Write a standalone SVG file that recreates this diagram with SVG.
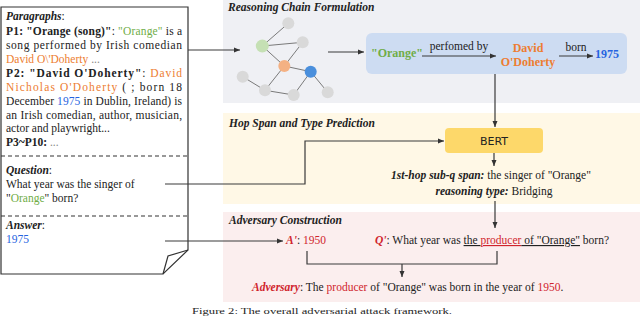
<svg xmlns="http://www.w3.org/2000/svg" width="640" height="318" viewBox="0 0 640 318">
<defs>
<marker id="ah" markerWidth="6" markerHeight="6" refX="6" refY="3" orient="auto" markerUnits="userSpaceOnUse"><path d="M0,0.5 L6,3 L0,5.5 z" fill="#333"/></marker>
<style>
text{font-family:"Liberation Serif","Times New Roman",serif;font-size:11.5px;fill:#222}
.b{font-weight:bold}
.bi{font-weight:bold;font-style:italic}
.g{fill:#70ad47}
.o{fill:#ed7d31}
.bl{fill:#2563e0}
.r{fill:#d0242c}
.gr{fill:#888}
.ttl{font-weight:bold;font-style:italic;font-size:11.5px}
.big{font-size:12px}
.c{fill:none;stroke:#3a3a3a;stroke-width:1.2}
.e{stroke:#7a7a7a;stroke-width:1}
</style>
</defs>
<g id="sections">
<rect x="223" y="0" width="417" height="103" fill="#eff0f4"/>
<rect x="223" y="113" width="417" height="91" fill="#fff8e6"/>
<rect x="223" y="212" width="417" height="90" fill="#fbeeee"/>
<text class="ttl" x="228" y="11">Reasoning Chain Formulation</text>
<text class="ttl" x="229" y="127">Hop Span and Type Prediction</text>
<text class="ttl" x="229" y="224">Adversary Construction</text>
</g>
<g id="paper">
<path d="M1,7 H188 V250 L163,274 H1 Z" fill="#fff" stroke="#333" stroke-width="1.2"/>
<path d="M188,250 L168,256 L163,274" fill="none" stroke="#333" stroke-width="1.2"/>
<line x1="1" y1="156" x2="188" y2="156" stroke="#333" stroke-width="1.2" stroke-dasharray="4,3"/>
<line x1="1" y1="216" x2="188" y2="216" stroke="#333" stroke-width="1.2" stroke-dasharray="4,3"/>
<text class="bi" x="6" y="20">Paragraphs<tspan font-weight="normal" font-style="normal">:</tspan></text>
<text x="6" y="34.5" textLength="176" lengthAdjust="spacing"><tspan class="b">P1: "Orange (song)"</tspan>: <tspan class="g">"Orange"</tspan> is a</text>
<text x="6" y="48.5" textLength="176" lengthAdjust="spacing">song performed by Irish comedian</text>
<text x="6" y="62.5"><tspan class="o">David O\'Doherty</tspan><tspan class="gr"> ...</tspan></text>
<text x="6" y="76.5" textLength="176" lengthAdjust="spacing"><tspan class="b">P2: "David O'Doherty"</tspan>: <tspan class="o">David</tspan></text>
<text x="6" y="90.5" textLength="176" lengthAdjust="spacing"><tspan class="o">Nicholas O'Doherty</tspan> ( ; born 18</text>
<text x="6" y="104.5" textLength="176" lengthAdjust="spacing">December <tspan class="bl">1975</tspan> in Dublin, Ireland) is</text>
<text x="6" y="118.5" textLength="176" lengthAdjust="spacing">an Irish comedian, author, musician,</text>
<text x="6" y="132">actor and playwright...</text>
<text x="6" y="146"><tspan class="b">P3~P10:</tspan><tspan class="gr"> ...</tspan></text>
<text class="bi" x="6" y="174">Question<tspan font-weight="normal" font-style="normal">:</tspan></text>
<text x="6" y="187.5">What year was the singer of</text>
<text x="6" y="202">"<tspan class="g">Orange</tspan>" born?</text>
<text class="bi" x="6" y="229">Answer<tspan font-weight="normal" font-style="normal">:</tspan></text>
<text class="bl" x="6" y="243">1975</text>
</g>
<g id="graph">
<line class="e" x1="262.3" y1="46" x2="288.3" y2="23.3"/>
<line class="e" x1="262.3" y1="46" x2="302.7" y2="42.3"/>
<line class="e" x1="262.3" y1="46" x2="284.3" y2="66"/>
<line class="e" x1="302.7" y1="42.3" x2="284.3" y2="66"/>
<line class="e" x1="284.3" y1="66" x2="310.7" y2="71.7"/>
<line class="e" x1="284.3" y1="66" x2="265" y2="90.3"/>
<line class="e" x1="242.7" y1="76.7" x2="265" y2="90.3"/>
<line class="e" x1="265" y1="90.3" x2="293.7" y2="95"/>
<line class="e" x1="293.7" y1="95" x2="310.7" y2="71.7"/>
<line class="e" x1="310.7" y1="71.7" x2="327.7" y2="92.3"/>
<circle cx="288.3" cy="23.3" r="6" fill="#d9d9d9"/>
<circle cx="302.7" cy="42.3" r="6" fill="#d9d9d9"/>
<circle cx="242.7" cy="76.7" r="6" fill="#d9d9d9"/>
<circle cx="265" cy="90.3" r="6" fill="#d9d9d9"/>
<circle cx="293.7" cy="95" r="6" fill="#d9d9d9"/>
<circle cx="327.7" cy="92.3" r="6" fill="#d9d9d9"/>
<circle cx="262.3" cy="46" r="6.5" fill="#c5e0b4"/>
<circle cx="284.3" cy="66" r="6" fill="#f4b183"/>
<circle cx="310.7" cy="71.7" r="6" fill="#4a8fdc"/>
</g>
<g id="chain">
<rect x="366" y="33" width="261" height="41" rx="6" fill="#cddcf2"/>
<text class="b g big" x="371" y="57">"Orange"</text>
<text x="459" y="50" text-anchor="middle">perfomed by</text>
<text class="b o big" x="528" y="52" text-anchor="middle">David</text>
<text class="b o big" x="528" y="66" text-anchor="middle">O'Doherty</text>
<text x="576" y="51" text-anchor="middle">born</text>
<text class="b bl big" x="595" y="57.5">1975</text>
</g>
<g id="bert">
<rect x="445" y="128" width="98" height="25" rx="4" fill="#fdd86a"/>
<text x="494" y="145" text-anchor="middle" style="font-family:'DejaVu Sans','Liberation Sans',sans-serif;font-size:11px">BERT</text>
</g>
<g id="prediction">
<text x="491" y="179" text-anchor="middle"><tspan class="bi">1st-hop sub-q span:</tspan> the singer of "Orange"</text>
<text x="494" y="195" text-anchor="middle"><tspan class="bi">reasoning type:</tspan> Bridging</text>
</g>
<g id="answer-prime">
<text x="286" y="244"><tspan class="bi r">A'</tspan>: <tspan class="r">1950</tspan></text>
</g>
<g id="question-prime">
<text x="375" y="244"><tspan class="bi r">Q'</tspan>: What year was <tspan text-decoration="underline">the </tspan><tspan class="r" text-decoration="underline">producer</tspan><tspan text-decoration="underline"> of "Orange"</tspan> born?</text>
</g>
<g id="adversary">
<text x="252" y="291"><tspan class="bi r">Adversary</tspan>: The <tspan class="r">producer</tspan> of "Orange" was born in the year of <tspan class="r">1950</tspan>.</text>
</g>
<g id="connectors">
<path class="c" d="M188,50 H240" marker-end="url(#ah)"/>
<path class="c" d="M328,52 H364" marker-end="url(#ah)"/>
<path class="c" d="M422,56 H496" marker-end="url(#ah)"/>
<path class="c" d="M559,56 H593" marker-end="url(#ah)"/>
<path class="c" d="M495,74 V127" marker-end="url(#ah)"/>
<path class="c" d="M165,184 H305 V141 H444" marker-end="url(#ah)"/>
<path class="c" d="M165,241 H283" marker-end="url(#ah)"/>
<path class="c" d="M494,153 V166" marker-end="url(#ah)"/>
<path class="c" d="M495,201 V228" marker-end="url(#ah)"/>
<path class="c" d="M307,251 V264 H497 V251"/>
<path class="c" d="M402,264 V277" marker-end="url(#ah)"/>
</g>
<g id="caption">
<text x="192" y="314" textLength="260" lengthAdjust="spacingAndGlyphs" style="font-size:9px">Figure 2: The overall adversarial attack framework.</text>
</g>
</svg>
